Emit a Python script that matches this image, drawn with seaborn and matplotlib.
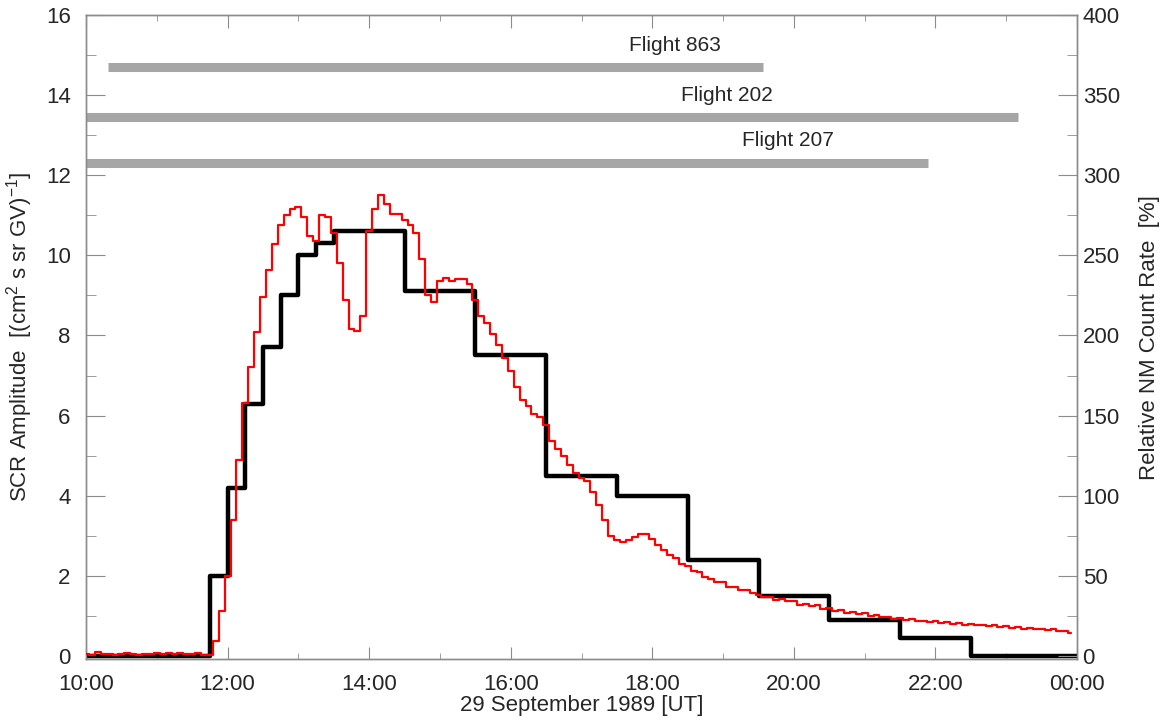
import numpy as np
import pandas as pd
import seaborn as sns
import matplotlib.pyplot as plt
import matplotlib.dates as mdates

# SCR amplitude, hourly / quarter-hourly steps (left axis)
scr_times = ["10:00", "11:45", "12:00", "12:15", "12:30", "12:45", "13:00", "13:15", "13:30",
             "14:30", "15:30", "16:30", "17:30", "18:30", "19:30", "20:30", "21:30", "22:30", "24:00"]
scr_amp = [0, 2.0, 4.2, 6.3, 7.7, 9.0, 10.0, 10.3, 10.6,
           9.1, 7.5, 4.5, 4.0, 2.4, 1.5, 0.9, 0.45, 0, 0]

# relative neutron monitor count rate [%], 5-minute values from 10:00 (right axis)
nm_rate = [1, 0.5, 2.5, 1, 1, 0.5, 1, 1.5, 1, 0.5, 1, 1, 1.5, 1, 1.5, 1, 2, 1, 1, 1.5, 0.5,
           0.5, 9, 28, 50, 85, 122, 158, 180, 202, 224, 241, 257, 269, 275, 279,
           280, 274, 262, 259, 275, 274, 264, 245, 222, 204, 203, 212,
           265, 279, 288, 282, 276, 276, 272, 269, 264, 248, 225, 221,
           234, 236, 234, 235, 235, 232, 222, 212, 208, 201, 194, 186,
           178, 168, 160, 156, 151, 149, 144, 134, 129, 125, 119, 114,
           111, 109, 102, 94, 85, 75, 72, 71, 72, 74, 76, 76,
           73, 69, 66, 63, 61, 57, 56, 53, 52, 49, 48, 46,
           46, 43, 43, 41, 41, 39, 38, 37, 37, 35, 35.5, 34,
           34, 32, 32.5, 31, 31.5, 29.5, 30, 28, 28.5, 27, 27.5, 26,
           26.5, 25, 25.5, 24.5, 24.5, 23, 23.5, 22.5, 23, 21.5, 22, 21,
           21.5, 20.5, 21, 20, 20.5, 19.5, 20, 19, 19.5, 18.5, 19, 18,
           18.5, 17.5, 18, 17, 17.5, 16.5, 17, 16, 16.5, 15.5, 15.5, 14]

# balloon flights: name, start, end, level on SCR axis
flights = ["Flight 863", "Flight 202", "Flight 207"]
flight_start = ["10:19", "09:30", "09:30"]
flight_end = ["19:34", "23:10", "21:54"]
flight_level = [14.7, 13.45, 12.32]
# label anchors (time, level)
label_time = ["18:19", "19:03", "19:55"]
label_level = [15.25, 14.0, 12.87]

day = pd.Timestamp("1989-09-29")
def t(s):
    h, m = s.split(":")
    return day + pd.Timedelta(hours=int(h), minutes=int(m))

scr = pd.DataFrame({"time": [t(s) for s in scr_times], "amp": scr_amp})
nm = pd.DataFrame({"time": pd.date_range(t("10:00"), periods=len(nm_rate), freq="5min"),
                   "rate": nm_rate})

sns.set_style("ticks")
plt.rcParams["font.family"] = ["Liberation Sans", "DejaVu Sans"]
plt.rcParams["mathtext.fontset"] = "custom"
plt.rcParams["mathtext.rm"] = "Liberation Sans"
plt.rcParams["mathtext.it"] = "Liberation Sans"
fs = 16

fig = plt.figure(figsize=(11.72, 7.22), dpi=100)
ax = fig.add_axes([0.0734, 0.0873, 0.919 - 0.0734, 0.979 - 0.0873])
ax2 = ax.twinx()

y0, y1 = -0.08, 16
ax.set_ylim(y0, y1)
ax2.set_ylim(y0 * 25, y1 * 25)
ax.set_xlim(t("10:00"), t("24:00"))

# flights
for name, s, e, lv, lt, ll in zip(flights, flight_start, flight_end, flight_level, label_time, label_level):
    ax.hlines(lv, t(s), t(e), color="#a6a6a6", lw=6.5, zorder=1)
    ax.text(t(lt), ll, name, ha="center", va="center", fontsize=fs - 1)

sns.lineplot(data=scr, x="time", y="amp", ax=ax, color="black", lw=3.2,
             drawstyle="steps-post", estimator=None, zorder=3)
sns.lineplot(data=nm, x="time", y="rate", ax=ax2, color="#ff0000", lw=1.6,
             drawstyle="steps-mid", estimator=None, zorder=4)

ax.xaxis.set_major_locator(mdates.HourLocator(byhour=range(0, 24, 2)))
ax.xaxis.set_minor_locator(mdates.HourLocator())
ax.xaxis.set_major_formatter(mdates.DateFormatter("%H:%M"))
ax.set_yticks(range(0, 17, 2))
ax.set_yticks(range(0, 17, 1), minor=True)
ax2.set_yticks(range(0, 401, 50))
ax2.set_yticks(range(0, 401, 25), minor=True)

grey = "#8c8c8c"
for a in (ax, ax2):
    for sp in a.spines.values():
        sp.set_color(grey)
        sp.set_linewidth(1.0)
ax.tick_params(axis="x", which="both", direction="in", top=True, bottom=True, color=grey,
               labelsize=fs, pad=11)
ax.tick_params(axis="x", which="major", length=9)
ax.tick_params(axis="x", which="minor", length=4.5)
ax.tick_params(axis="y", which="both", direction="in", left=True, right=False, color=grey,
               labelsize=fs, pad=11)
ax.tick_params(axis="y", which="major", length=14)
ax.tick_params(axis="y", which="minor", length=7)
ax2.tick_params(axis="y", which="both", direction="in", right=True, color=grey,
                labelsize=fs, pad=4)
ax2.tick_params(axis="y", which="major", length=14)
ax2.tick_params(axis="y", which="minor", length=7)

ax.set_xlabel("29 September 1989 [UT]", fontsize=fs, labelpad=0)
ax.set_ylabel(r"SCR Amplitude  [(cm$^2$ s sr GV)$^{-1}$]", fontsize=fs, labelpad=8)
ax2.set_ylabel("Relative NM Count Rate  [%]", fontsize=fs, labelpad=14)

fig.savefig("out.png", dpi=100)
